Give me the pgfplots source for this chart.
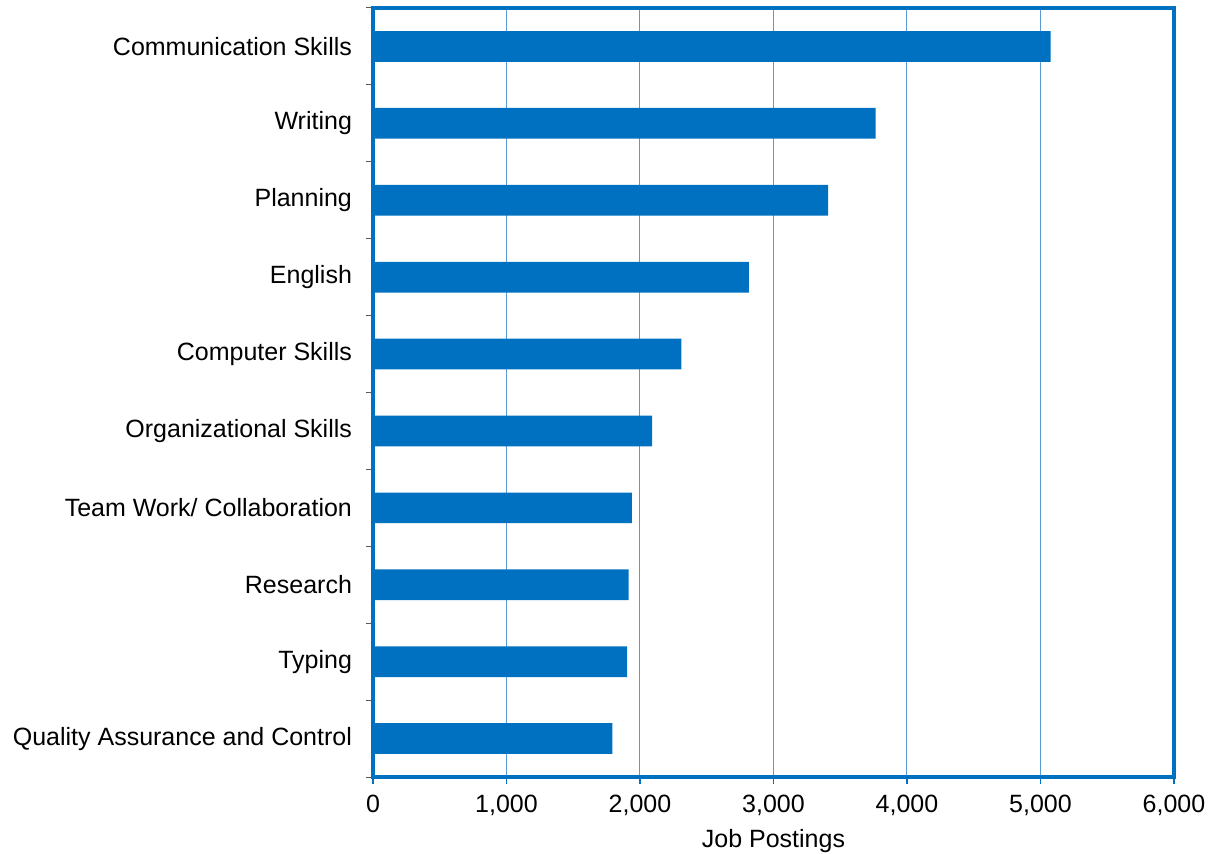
\documentclass[border=0pt]{standalone}
\usepackage{pgfplots}
\pgfplotsset{compat=1.18}
\usepackage{fontspec}
\setmainfont{Liberation Sans}
\definecolor{barblue}{HTML}{0070C0}
\definecolor{gridblue}{HTML}{5B9BD5}
\begin{document}
\begin{tikzpicture}[x=1pt,y=1pt]
\begin{axis}[
  scale only axis,
  width=400.5pt, height=384.5pt,
  xbar, bar width=15.35pt,
  xmin=0, xmax=6000,
  ymin=-0.5, ymax=9.5,
  y dir=reverse,
  xtick={0,1000,...,6000},
  scaled x ticks=false,
  /pgf/number format/assume math mode=true,
  /pgf/number format/1000 sep={,},
  ytick={0,...,9},
  yticklabels={Communication Skills,Writing,Planning,English,Computer Skills,Organizational Skills,Team Work/ Collaboration,Research,Typing,Quality Assurance and Control},
  minor ytick={-0.5,0.5,...,9.5},
  tick align=outside,
  major tick length=3.5pt,
  minor tick length=3.5pt,
  y tick style={draw=none},
  minor y tick style={draw=gray!70!black, line width=0.5pt},
  x tick style={draw=barblue, line width=0.6pt},
  xtick pos=bottom, ytick pos=left,
  xmajorgrids,
  major grid style={draw=gridblue, line width=0.5pt},
  axis line style={draw=barblue, line width=2pt},
  tick label style={font=\fontsize{12.5}{15}\selectfont, text=black},
  yticklabel style={xshift=-3.5pt},
  xticklabel style={yshift=-2pt},
  xlabel={Job Postings},
  xlabel style={font=\fontsize{12.5}{15}\selectfont, yshift=0pt},
]
\addplot[fill=barblue, draw=none] coordinates {
  (5075,0) (3765,1) (3410,2) (2815,3) (2310,4)
  (2090,5) (1940,6) (1915,7) (1903,8) (1793,9)
};
\end{axis}
\pgfresetboundingbox
\path[use as bounding box] ([xshift=-186.5pt,yshift=-38pt]current axis.south west) rectangle ([xshift=17.5pt,yshift=4pt]current axis.north east);
\end{tikzpicture}
\end{document}
